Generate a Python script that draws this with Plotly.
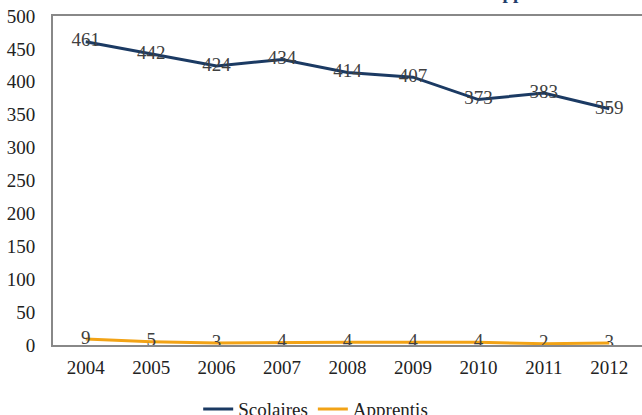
import plotly.graph_objects as go

years = ["2004", "2005", "2006", "2007", "2008", "2009", "2010", "2011", "2012"]
scolaires = [461, 442, 424, 434, 414, 407, 373, 383, 359]
apprentis = [9, 5, 3, 4, 4, 4, 4, 2, 3]
y_ticks = [0, 50, 100, 150, 200, 250, 300, 350, 400, 450, 500]

FONT = "'Liberation Serif', 'DejaVu Serif', serif"
navy = "#1B3A63"
orange = "#F2A316"
FS = 19

fig = go.Figure()
fig.add_trace(go.Scatter(
    x=years, y=scolaires, name="Scolaires", mode="lines+text",
    line=dict(color=navy, width=3),
    text=[str(v) for v in scolaires], textposition="middle center",
    textfont=dict(family=FONT, size=FS, color="#404040"),
))
fig.add_trace(go.Scatter(
    x=years, y=apprentis, name="Apprentis", mode="lines+text",
    line=dict(color=orange, width=3),
    text=[str(v) for v in apprentis], textposition="middle center",
    textfont=dict(family=FONT, size=FS, color="#404040"),
))

fig.update_layout(
    width=642, height=415,
    margin=dict(l=53, r=0, t=16, b=70, autoexpand=False),
    paper_bgcolor="white", plot_bgcolor="white",
    font=dict(family=FONT, size=FS, color="#222222"),
    showlegend=True,
    legend=dict(orientation="h", x=0.446, xanchor="center", y=-0.195, yanchor="middle",
                font=dict(family=FONT, size=FS, color="#222222"), itemwidth=30),
    xaxis=dict(type="category", range=[-0.5, 8.5], showgrid=False,
               showline=True, linecolor="#888888", linewidth=2, mirror=True,
               ticks="", tickfont=dict(family=FONT, size=FS, color="#222222"),
               ticklabelstandoff=4),
    yaxis=dict(range=[0, 500], tickvals=y_ticks, showgrid=False, zeroline=False,
               showline=True, linecolor="#888888", linewidth=2, mirror=True,
               ticks="", tickfont=dict(family=FONT, size=FS, color="#222222"),
               ticklabelstandoff=12),
)
fig.add_annotation(
    text="<b>Evolution des effectifs des élèves et apprentis</b>",
    xref="paper", yref="paper", x=0.57, y=1.034, xanchor="center", yanchor="bottom",
    showarrow=False, font=dict(family=FONT, size=19, color="#1F3D6B"),
)

fig.write_html("out.html", config={"displayModeBar": False},
               post_script="document.body.style.margin='0';")
